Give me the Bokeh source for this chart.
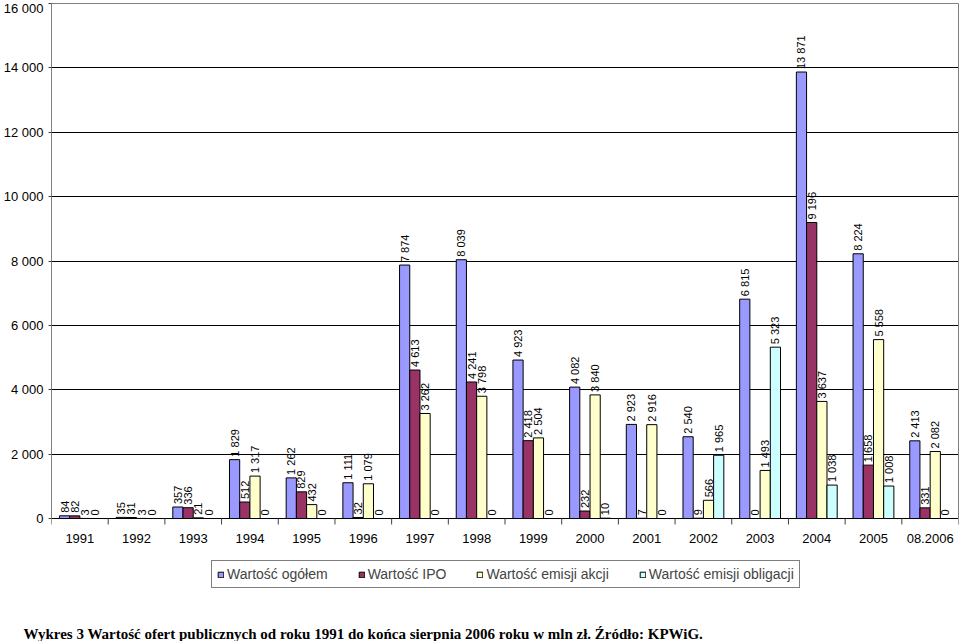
import math
from bokeh.plotting import figure
from bokeh.models import (ColumnDataSource, Range1d, FixedTicker, Legend, LegendItem, Title, LinearAxis)
from bokeh.core.properties import value
from bokeh.embed import file_html
from bokeh.resources import INLINE

categories = ["1991", "1992", "1993", "1994", "1995", "1996", "1997", "1998",
              "1999", "2000", "2001", "2002", "2003", "2004", "2005", "08.2006"]
total = [84, 35, 357, 1829, 1262, 1111, 7874, 8039, 4923, 4082, 2923, 2540, 6815, 13871, 8224, 2413]
ipo = [82, 31, 336, 512, 829, 32, 4613, 4241, 2418, 232, 7, 9, 0, 9196, 1658, 331]
shares = [3, 3, 21, 1317, 432, 1079, 3262, 3798, 2504, 3840, 2916, 566, 1493, 3637, 5558, 2082]
bonds = [0, 0, 0, 0, 0, 0, 0, 0, 0, 10, 0, 1965, 5323, 1038, 1008, 0]
series_names = ["Wartość ogółem", "Wartość IPO", "Wartość emisji akcji", "Wartość emisji obligacji"]
series_colors = ["#9999FF", "#993366", "#FFFFCC", "#CCFFFF"]
y_ticks = [0, 2000, 4000, 6000, 8000, 10000, 12000, 14000, 16000]
caption = "Wykres 3 Wartość ofert publicznych od roku 1991 do końca sierpnia 2006 roku w mln zł. Źródło: KPWiG."

FONT = "Liberation Sans"
BAR_W = 0.18
W, H = 960, 641
Y_MAX = 16000
Y_MIN = -3262   # extra room below zero for the category labels and the legend


def fmt(v):
    return f"{v:,}".replace(",", " ")


n = len(categories)
p = figure(width=W, height=H, x_range=Range1d(0, n), y_range=Range1d(Y_MIN, Y_MAX),
           output_backend="svg", toolbar_location=None, x_axis_location=None,
           min_border_left=50, min_border_right=2, min_border_top=3, min_border_bottom=0)
p.background_fill_color = "white"
p.border_fill_color = "white"
p.outline_line_color = None

renderers = []
for k, (vals, col) in enumerate(zip([total, ipo, shares, bonds], series_colors)):
    xs = [i + 0.5 + (k - 1.5) * BAR_W for i in range(n)]
    src = ColumnDataSource(dict(x=xs, top=vals, lbl=[fmt(v) for v in vals]))
    r = p.vbar(x="x", top="top", bottom=0, width=BAR_W, source=src, fill_color=col,
               line_color="black", line_width=1)
    renderers.append(r)
    p.text(x="x", y="top", text="lbl", source=src, angle=math.pi / 2,
           text_align="left", text_baseline="middle", y_offset=-3,
           text_font=value(FONT), text_font_size="11px", text_color="black")

# category axis: labels at category centres, tick marks between categories
cat_src = ColumnDataSource(dict(x=[i + 0.5 for i in range(n)], y=[0] * n, lbl=categories))
p.text(x="x", y="y", text="lbl", source=cat_src, text_align="center", text_baseline="middle",
       y_offset=20, text_font=value(FONT), text_font_size="13px", text_color="black")
p.ray(x=list(range(n + 1)), y=[0] * (n + 1), length=6, length_units="screen",
      angle=-math.pi / 2, line_color="#404040", line_width=1)

# y axis
ya = p.yaxis[0]
ya.ticker = FixedTicker(ticks=y_ticks, minor_ticks=[])
ya.bounds = (0, Y_MAX)
ya.major_label_overrides = {v: fmt(v) for v in y_ticks}
ya.major_tick_out = 3
ya.major_tick_in = 0
ya.major_tick_line_color = "#404040"
ya.axis_line_color = "#808080"
ya.major_label_standoff = 5
ya.major_label_text_font = FONT
ya.major_label_text_font_size = "13px"
ya.major_label_text_color = "black"

# plot-area border (top and right)
top_ax = LinearAxis(ticker=FixedTicker(ticks=[]), bounds=(0, n), axis_line_color="#808080",
                    major_tick_line_color=None, minor_tick_line_color=None,
                    major_label_text_font_size="0px")
p.add_layout(top_ax, "above")
right_ax = LinearAxis(ticker=FixedTicker(ticks=[]), bounds=(0, Y_MAX), axis_line_color="#808080",
                      major_tick_line_color=None, minor_tick_line_color=None,
                      major_label_text_font_size="0px")
p.add_layout(right_ax, "right")

p.xgrid.visible = False
p.ygrid.ticker = FixedTicker(ticks=y_ticks[:-1])
p.ygrid.grid_line_color = "black"
p.ygrid.grid_line_width = 1

legend = Legend(items=[LegendItem(label=nm, renderers=[r]) for nm, r in zip(series_names, renderers)],
                orientation="horizontal", location=(160, 35),
                label_text_font=FONT, label_text_font_size="14px",
                glyph_width=7, glyph_height=7, label_standoff=3, spacing=30,
                padding=5, label_height=8, border_line_color="black", border_line_width=1,
                background_fill_color="white", background_fill_alpha=1.0)
p.add_layout(legend, "center")

cap = Title(text=caption, align="left", offset=-28, standoff=0,
            text_font="Liberation Serif", text_font_size="15px", text_font_style="bold",
            text_color="black")
p.add_layout(cap, "below")

open("out.html", "w").write(file_html(p, INLINE))
